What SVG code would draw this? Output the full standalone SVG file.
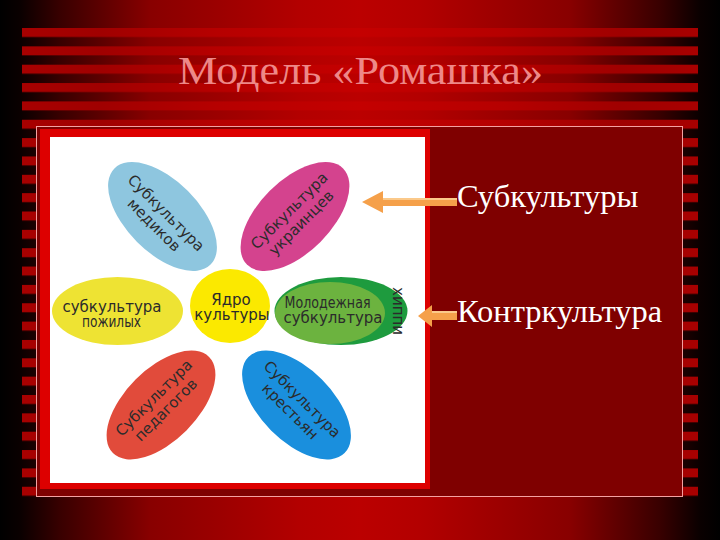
<svg xmlns="http://www.w3.org/2000/svg" width="720" height="540" viewBox="0 0 720 540">
  <defs>
    <linearGradient id="bg" gradientUnits="userSpaceOnUse" x1="0" y1="0" x2="720" y2="0">
      <stop offset="0" stop-color="#000000"/>
      <stop offset="0.028" stop-color="#0a0000"/>
      <stop offset="0.083" stop-color="#380000"/>
      <stop offset="0.208" stop-color="#880000"/>
      <stop offset="0.417" stop-color="#b30000"/>
      <stop offset="0.5" stop-color="#bb0000"/>
      <stop offset="0.583" stop-color="#b30000"/>
      <stop offset="0.792" stop-color="#880000"/>
      <stop offset="0.917" stop-color="#380000"/>
      <stop offset="0.972" stop-color="#0a0000"/>
      <stop offset="1" stop-color="#000000"/>
    </linearGradient>
    <linearGradient id="stripeGrad" gradientUnits="userSpaceOnUse" x1="0" y1="0" x2="720" y2="0">
      <stop offset="0.03" stop-color="#a80000"/>
      <stop offset="0.14" stop-color="#a00000"/>
      <stop offset="0.3" stop-color="#b60000"/>
      <stop offset="0.5" stop-color="#c40000"/>
      <stop offset="0.7" stop-color="#b60000"/>
      <stop offset="0.86" stop-color="#a00000"/>
      <stop offset="0.97" stop-color="#a80000"/>
    </linearGradient>
    <pattern id="stripes" patternUnits="userSpaceOnUse" x="0" y="28" width="720" height="18.35">
      <rect x="0" y="0" width="720" height="9" fill="url(#stripeGrad)"/>
    </pattern>
    <style>
      .title { font-family: "Liberation Serif", "Times New Roman", serif; font-size: 39px; fill: #ee8888; }
      .label { font-family: "Liberation Serif", "Times New Roman", serif; font-size: 32.5px; fill: #ffffff; }
      .pt { font-family: "DejaVu Sans", Verdana, sans-serif; font-size: 15px; fill: #2b2b2b; text-anchor: middle; }
      .arrow { fill: #f5a04a; }
      .hl { fill: #fbc98a; }
    </style>
  </defs>

  <!-- background -->
  <rect x="0" y="0" width="720" height="540" fill="url(#bg)"/>
  <rect x="22" y="28" width="676" height="477" fill="url(#stripes)"/>

  <!-- title -->
  <text class="title" x="178" y="84" textLength="365" lengthAdjust="spacingAndGlyphs">Модель «Ромашка»</text>

  <!-- content frame -->
  <rect x="36.5" y="126.5" width="646" height="370" fill="#7f0000" stroke="#f4a0a0" stroke-width="1"/>

  <!-- picture -->
  <rect x="40" y="129" width="390" height="360" fill="#dd0000"/>
  <rect x="50" y="137" width="375" height="346" fill="#ffffff"/>

  <g id="petal-medikov" transform="translate(162.5,216.5) rotate(45)">
    <ellipse cx="0" cy="0" rx="68" ry="36" fill="#8ec6df"/>
    <text class="pt" x="0" y="0">Субкультура</text>
    <text class="pt" x="0" y="17">медиков</text>
  </g>

  <g id="petal-ukraintsev" transform="translate(295,216.5) rotate(-45)">
    <ellipse cx="0" cy="0" rx="68" ry="36" fill="#d4438e"/>
    <text class="pt" x="0" y="-3">Субкультура</text>
    <text class="pt" x="0" y="14">украинцев</text>
  </g>

  <g id="petal-pozhilyh">
    <ellipse cx="117.5" cy="311" rx="65.5" ry="34" fill="#eee333"/>
    <text class="pt" x="112" y="312">субкультура</text>
    <text class="pt" x="111.5" y="327" textLength="59" lengthAdjust="spacingAndGlyphs">пожилых</text>
  </g>

  <g id="core">
    <ellipse cx="230" cy="306" rx="40" ry="37" fill="#fbe900"/>
    <text class="pt" x="231" y="305">Ядро</text>
    <text class="pt" x="232" y="320">культуры</text>
  </g>

  <g id="petal-molodezh">
    <ellipse cx="341" cy="311" rx="66.5" ry="34" fill="#1e9b3e"/>
    <ellipse cx="330" cy="313" rx="55" ry="31" fill="#6cb33f"/>
    <text class="pt" x="327.5" y="308" textLength="86" lengthAdjust="spacingAndGlyphs">Молодежная</text>
    <text class="pt" x="333" y="323">субкультура</text>
    <text class="pt" font-size="11" transform="translate(393,311) rotate(90)" x="0" y="0">хиппи</text>
  </g>

  <g id="petal-pedagogov" transform="translate(161,405) rotate(-45)">
    <ellipse cx="0" cy="0" rx="68" ry="36" fill="#e14b3b"/>
    <text class="pt" x="0" y="-5">Субкультура</text>
    <text class="pt" x="0" y="12">педагогов</text>
  </g>

  <g id="petal-krestyan" transform="translate(296.5,405) rotate(45)">
    <ellipse cx="0" cy="0" rx="68" ry="36" fill="#1a8fdd"/>
    <text class="pt" x="0" y="-3">Субкультура</text>
    <text class="pt" x="0" y="14">крестьян</text>
  </g>

  <!-- connectors -->
  <g id="connectors">
    <polygon class="arrow" points="362,202 383,191 383,198 457,198 457,206 383,206 383,213"/>
    <rect class="hl" x="383" y="198" width="74" height="2"/>
    <polygon class="arrow" points="418,316 432,305 432,311 457,311 457,320 432,320 432,327"/>
    <rect class="hl" x="432" y="311" width="25" height="2"/>
  </g>

  <!-- labels -->
  <g id="label-sub">
    <text class="label" x="457" y="207">Субкультуры</text>
  </g>
  <g id="label-contr">
    <text class="label" x="457" y="322">Контркультура</text>
  </g>
</svg>
